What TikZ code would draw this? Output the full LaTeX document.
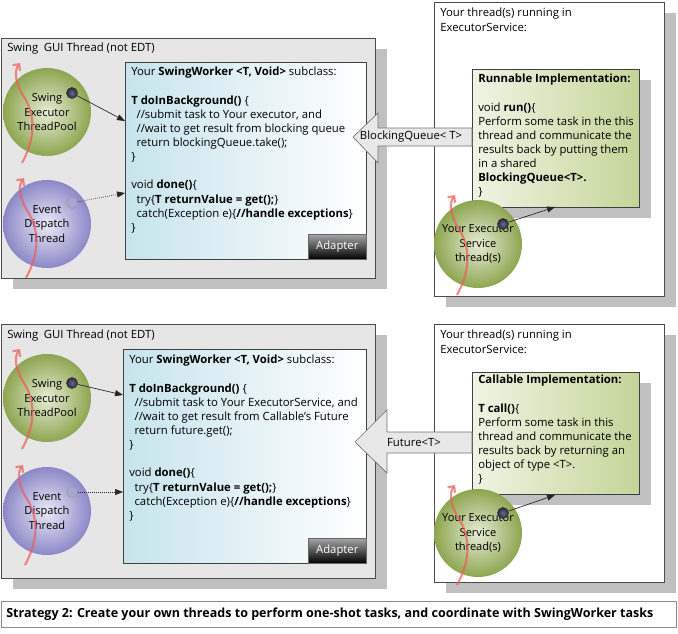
\documentclass[tikz,border=0pt]{standalone}
\usepackage{fontspec}
\setmainfont{Open Sans}
\usetikzlibrary{arrows.meta,shadows,positioning}

\newcommand\pw{0.75pt}
\definecolor{guigray}{HTML}{E6E6E6}
\definecolor{shadowgray}{HTML}{C0C0C0}
\definecolor{workerblue}{HTML}{C6E4EC}
\definecolor{implleft}{HTML}{F0F4E4}
\definecolor{implright}{HTML}{C4D598}
\definecolor{poolin}{HTML}{E6ECD6}
\definecolor{poolout}{HTML}{8DA650}
\definecolor{edtin}{HTML}{EAEAF6}
\definecolor{edtout}{HTML}{8C88C8}
\definecolor{wavered}{HTML}{F05A5A}
\definecolor{queuefill}{HTML}{E8E8E8}
\definecolor{dotnavy}{HTML}{2A2A4A}
\definecolor{dotlav}{HTML}{A9A7D2}

\tikzset{
  txt/.style={font=\fontsize{8.5}{10.6}\selectfont, inner sep=0pt, anchor=north west, align=left},
  shadowed/.style={general shadow={fill=shadowgray, shadow xshift=8.5pt, shadow yshift=-8pt}},
  panel/.style={draw=black!70, fill=guigray, anchor=north west, inner sep=0pt, shadowed},
  execpanel/.style={draw=black!70, fill=white, anchor=north west, inner sep=0pt, shadowed},
  workerbox/.style={draw=black!75, left color=workerblue, right color=white, anchor=north west, inner sep=0pt},
  implbox/.style={draw=black!75, left color=implleft, right color=implright, anchor=north west, inner sep=0pt, shadowed},
  adapter/.style={draw=black!60, top color=black!35, bottom color=black, text=white, inner sep=0pt,
    minimum width=58*\pw, minimum height=25*\pw, anchor=south east, font=\fontsize{8.5}{10}\selectfont},
  thread/.style={circle, inner sep=0pt, minimum size=88*\pw, align=center, shading=radial,
    font=\fontsize{8.3}{10.6}\selectfont},
  poolball/.style={thread, inner color=poolin, outer color=poolout},
  edtball/.style={thread, inner color=edtin, outer color=edtout},
  dot/.style={circle, inner sep=0pt, minimum size=11*\pw, line width=0.4pt},
  darkdot/.style={dot, shading=radial, inner color=dotnavy!70!white, outer color=dotnavy, draw=black!85},
  lightdot/.style={dot, fill=dotlav, draw=black!40},
  link/.style={-{Triangle[length=6pt,width=4.5pt]}, black!85, line width=0.5pt},
  bigarrow/.style={draw=black!55, fill=queuefill, line width=0.5pt},
  wave/.pic={\draw[wavered, opacity=0.7, line width=1.6pt, -{Straight Barb[length=3.5pt,width=7pt]}]
    (0,0) .. controls (12,-22) and (15,-45) .. (2,-66) .. controls (-7,-80) and (-8,-92) .. (-2,-100);}
}

\begin{document}
\begin{tikzpicture}[x=\pw, y=-\pw]
\useasboundingbox (0,0) rectangle (678,633);

% ---------- strategy with a blocking queue ----------
\node[panel, minimum width=374*\pw, minimum height=240*\pw] (gui1) at (1,38) {};
\node[txt] (gui1txt) at (7,43) {Swing\hspace{2pt} GUI Thread (not EDT)};
\node[workerbox, minimum width=241*\pw, minimum height=197*\pw] (worker1) at (125,62) {};
\node[txt] (worker1txt) at (131,67) {Your \textbf{SwingWorker <T, Void>} subclass:\\[10.6pt]
  \textbf{T doInBackground()} \{\\
  \hspace*{4pt}//submit task to Your executor, and\\
  \hspace*{4pt}//wait to get result from blocking queue\\
  \hspace*{4pt}return blockingQueue.take();\\
  \}\\[10.6pt]
  void \textbf{done()}\{\\
  \hspace*{4pt}try\{\textbf{T returnValue = get();}\}\\
  \hspace*{4pt}catch(Exception e)\{\textbf{//handle exceptions}\}\\
  \}};
\node[adapter] (adapt1) at (worker1.south east) {Adapter};

\node[poolball] (pool1) at (47,112) {Swing\\Executor\\ThreadPool};
\node[edtball] (edt1) at (47,224) {Event\\Dispatch\\Thread};
\pic at (22,163) {wave};
\pic at (26,278) {wave};
\node[darkdot] (dot1) at (72,93) {};
\node[lightdot] (dot2) at (72,203) {};
\coordinate (in1) at (125,121);
\coordinate (in2) at (125,193);
\draw[link] (dot1) -- (in1);
\draw[link, densely dotted] (dot2) -- (in2);

\node[execpanel, minimum width=230*\pw, minimum height=294*\pw] (exec1) at (434,2) {};
\node[txt] (exec1txt) at (440,8) {Your thread(s) running in\\ExecutorService:};
\node[implbox, minimum width=167*\pw, minimum height=138*\pw] (run1) at (472,69) {};
\node[txt] (run1txt) at (478,74) {\textbf{Runnable Implementation:}\\[10.6pt]
  void \textbf{run()}\{\\
  Perform some task in the this\\
  thread and communicate the\\
  results back by putting them\\
  in a shared\\
  \textbf{BlockingQueue<T>.}\\
  \}};
\draw[bigarrow] (353,137) -- (378,113) -- (378,128) -- (472,128) -- (472,146)
  -- (378,146) -- (378,163) -- cycle;
\node[txt, anchor=center] (queue1) at (411,137) {BlockingQueue< T>};

\node[poolball] (svc1) at (478,244) {Your Executor\\Service\\thread(s)};
\pic at (457,295) {wave};
\node[darkdot] (dot3) at (503,224) {};
\coordinate (out1) at (555,207);
\draw[link] (dot3) -- (out1);

% ---------- strategy with a future ----------
\node[panel, minimum width=374*\pw, minimum height=254*\pw] (gui2) at (1,324) {};
\node[txt] (gui2txt) at (7,330) {Swing\hspace{2pt} GUI Thread (not EDT)};
\node[workerbox, minimum width=243*\pw, minimum height=214*\pw] (worker2) at (123,349) {};
\node[txt] (worker2txt) at (129,355) {Your \textbf{SwingWorker <T, Void>} subclass:\\[10.6pt]
  \textbf{T doInBackground()} \{\\
  \hspace*{4pt}//submit task to Your ExecutorService, and\\
  \hspace*{4pt}//wait to get result from Callable's Future\\
  \hspace*{4pt}return future.get();\\
  \}\\[10.6pt]
  void \textbf{done()}\{\\
  \hspace*{4pt}try\{\textbf{T returnValue = get();}\}\\
  \hspace*{4pt}catch(Exception e)\{\textbf{//handle exceptions}\}\\
  \}};
\node[adapter] (adapt2) at (worker2.south east) {Adapter};

\node[poolball] (pool2) at (47,398) {Swing\\Executor\\ThreadPool};
\node[edtball] (edt2) at (47,511) {Event\\Dispatch\\Thread};
\pic at (22,449) {wave};
\pic at (25,565) {wave};
\node[darkdot] (dot4) at (72,383) {};
\node[lightdot] (dot5) at (72,492) {};
\coordinate (in3) at (123,395);
\coordinate (in4) at (123,492);
\draw[link] (dot4) -- (in3);
\draw[link, densely dotted] (dot5) -- (in4);

\node[execpanel, minimum width=230*\pw, minimum height=258*\pw] (exec2) at (434,324) {};
\node[txt] (exec2txt) at (440,330) {Your thread(s) running in\\ExecutorService:};
\node[implbox, minimum width=167*\pw, minimum height=122*\pw] (call1) at (472,372) {};
\node[txt] (call1txt) at (478,375) {\textbf{Callable Implementation:}\\[10.6pt]
  \textbf{T call()}\{\\
  Perform some task in this\\
  thread and communicate the\\
  results back by returning an\\
  object of type <T>.\\
  \}};
\draw[bigarrow] (355,442) -- (387,410) -- (387,432) -- (472,432) -- (472,453)
  -- (387,453) -- (387,473) -- cycle;
\node[txt, anchor=center] (future1) at (414,442) {Future<T>};

\node[poolball] (svc2) at (478,533) {Your Executor\\Service\\thread(s)};
\pic at (457,585) {wave};
\node[darkdot] (dot6) at (503,513) {};
\coordinate (out2) at (555,495);
\draw[link] (dot6) -- (out2);

% ---------- caption ----------
\node[draw=black!45, fill=white, anchor=north west, inner sep=0pt, minimum width=675*\pw,
  minimum height=26*\pw] (capbox) at (1,601) {};
\node[txt, anchor=west, font=\fontsize{9.4}{11}\selectfont\bfseries] (caption) at (6,614)
  {Strategy 2: Create your own threads to perform one-shot tasks, and coordinate with SwingWorker tasks};
\end{tikzpicture}
\end{document}
